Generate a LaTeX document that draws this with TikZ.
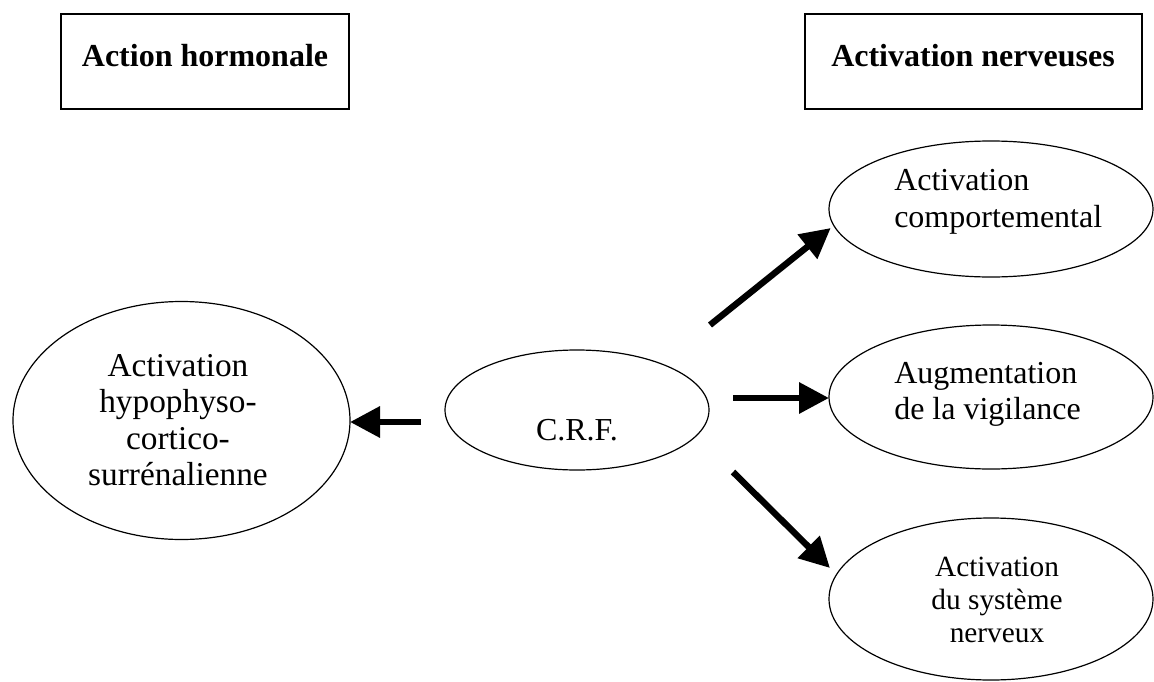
\documentclass[tikz,border=0pt]{standalone}
\usepackage{fontspec}
\setmainfont{Liberation Serif}
\usetikzlibrary{shapes.geometric,arrows.meta}
\begin{document}
\begin{tikzpicture}[x=0.75pt,y=-0.75pt,
  hbox/.style={draw,line width=1.2pt,rectangle,inner sep=0pt,outer sep=0pt,minimum height=71.25pt},
  htext/.style={font=\fontsize{24}{27.4}\selectfont\bfseries,inner sep=0pt,anchor=base},
  ell/.style={draw,line width=0.9pt,ellipse,inner sep=0pt,outer sep=0pt},
  etext/.style={font=\fontsize{24}{27.4}\selectfont,inner sep=0pt},
  arr/.style={line width=4.8pt,-{Triangle[length=22.5pt,width=22.5pt]}}]
\useasboundingbox (0,0) rectangle (1154,682);
% header boxes
\node[hbox,minimum width=216pt] (b1) at (205,61.5) {};
\node[htext] (b1t) at (205,66) {Action hormonale};
\node[hbox,minimum width=252.75pt] (b2) at (973.5,61.5) {};
\node[htext] (b2t) at (973,66) {Activation nerveuses};
% ellipses
\node[ell,minimum width=252.75pt,minimum height=178.5pt] (hpa) at (181.5,420.5) {};
\node[font=\fontsize{25}{27.4}\selectfont,inner sep=0pt,align=center] (hpat) at (178,420) {Activation\\hypophyso-\\cortico-\\surrénalienne};
\node[ell,minimum width=198pt,minimum height=90pt] (crf) at (577,410) {};
\node[etext] (crft) at (577,430) {C.R.F.};
\node[ell,minimum width=243pt,minimum height=102pt] (top) at (991,209) {};
\node[etext,align=left,anchor=west] (topt) at (894,202) {Activation\\comportemental};
\node[ell,minimum width=243pt,minimum height=108pt] (mid) at (991,397) {};
\node[etext,align=left,anchor=west] (midt) at (894,394.5) {Augmentation\\de la vigilance};
\node[ell,minimum width=243pt,minimum height=121.5pt] (bot) at (991,599) {};
\node[font=\fontsize{22}{24.75}\selectfont,inner sep=0pt,align=center] (bott) at (997,600) {Activation\\du système\\nerveux};
% arrow tails
\coordinate (t1) at (421,422);
\coordinate (t2) at (710,325);
\coordinate (t4) at (733,398);
\coordinate (t3) at (733,472);
% arrows
\draw[arr] (t1) -- (t1 -| hpa.east);
\draw[arr,shorten >=3pt] (t2) -- (top.186);
\draw[arr] (t4) -- (t4 -| mid.west);
\draw[arr,shorten >=7pt] (t3) -- (bot.171);
\end{tikzpicture}
\end{document}
